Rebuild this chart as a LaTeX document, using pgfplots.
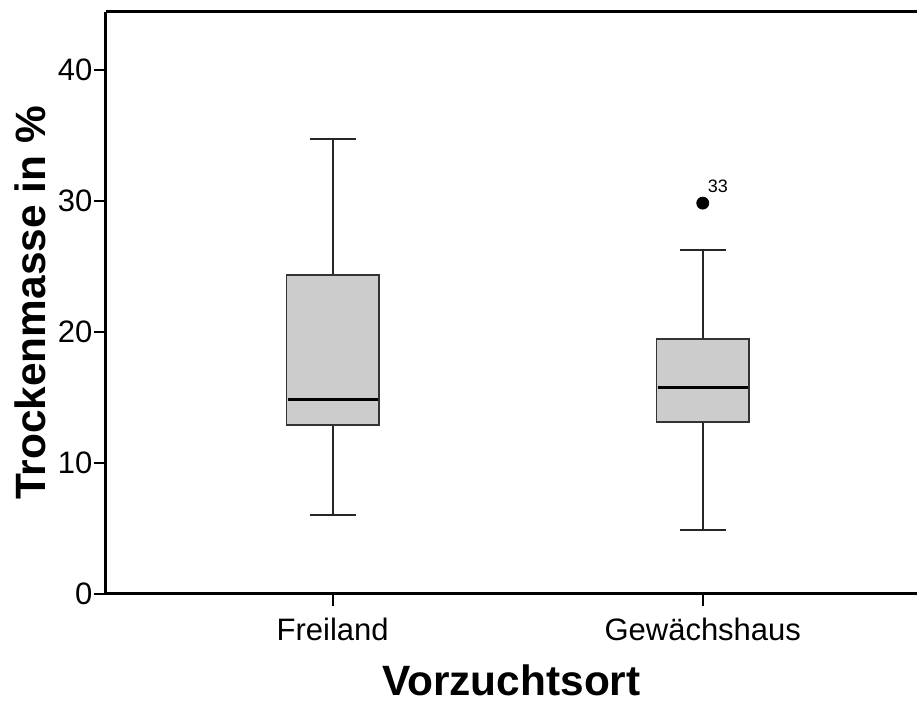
\documentclass[border=0pt]{standalone}
\usepackage{fontspec}
\setmainfont{Liberation Sans}
\usepackage{pgfplots}
\pgfplotsset{compat=1.18}
\definecolor{boxgray}{RGB}{204,204,204}
\definecolor{edgegray}{RGB}{51,51,51}

% five-number summaries
% Freiland:    6.0 / 12.9 / 14.86 / 24.35 / 34.73
% Gewaechshaus: 4.86 / 13.13 / 15.78 / 19.44 / 26.28, outlier 29.82 (case 33)

\begin{document}
\begin{tikzpicture}
  \begin{axis}[
    at={(0,0)}, anchor=south west,
    scale only axis,
    width=405.65pt, height=291pt,
    xmin=0.3865, xmax=2.579,
    ymin=0, ymax=44.4,
    axis x line=box, axis y line=left,
    axis line style={-, line width=1.5pt, black},
    xtick={1,2}, xticklabels={Freiland, Gewächshaus},
    ytick={0,10,20,30,40}, yticklabels={0,10,20,30,40},
    xtick pos=bottom, ytick pos=left,
    tick align=outside,
    major tick length=6pt,
    tick style={line width=1pt, black},
    tick label style={font=\fontsize{15.5}{18}\selectfont},
    yticklabel style={inner sep=0pt, xshift=-0.5pt},
    xticklabel style={yshift=-2.5pt},
    xlabel={\bfseries Vorzuchtsort},
    ylabel={\bfseries Trockenmasse in \%},
    xlabel style={font=\fontsize{21.2}{25}\selectfont, at={(axis description cs:0.5,0)}, anchor=base, yshift=-50.5pt},
    ylabel style={font=\fontsize{21.2}{25}\selectfont, at={(axis description cs:-0.0748,0.5)}, anchor=base},
    unbounded coords=jump,
  ]
    % whiskers and caps
    \addplot[black!85, line width=1pt] coordinates {
      (1,24.35) (1,34.73) (nan,nan) (0.9375,34.73) (1.0625,34.73) (nan,nan)
      (1,12.9) (1,6.0) (nan,nan) (0.9375,6.0) (1.0625,6.0) (nan,nan)
      (2,19.44) (2,26.28) (nan,nan) (1.9375,26.28) (2.0625,26.28) (nan,nan)
      (2,13.13) (2,4.86) (nan,nan) (1.9375,4.86) (2.0625,4.86)};
    % boxes (lower to upper quartile)
    \addplot[draw=edgegray, fill=boxgray, line width=0.75pt, line join=miter] coordinates {
      (0.875,12.9) (1.125,12.9) (1.125,24.35) (0.875,24.35) (0.875,12.9)};
    \addplot[draw=edgegray, fill=boxgray, line width=0.75pt, line join=miter] coordinates {
      (1.875,13.13) (2.125,13.13) (2.125,19.44) (1.875,19.44) (1.875,13.13)};
    % medians
    \addplot[black, line width=1.5pt] coordinates {
      (0.878,14.86) (1.122,14.86) (nan,nan) (1.878,15.78) (2.122,15.78)};
    % outlier, case 33
    \addplot[only marks, mark=*, mark size=3pt, mark options={draw=black, fill=black}]
      coordinates {(2,29.82)};
    \node[font=\fontsize{9}{10}\selectfont, inner sep=0pt] at (axis cs:2.041,31.07) {33};
  \end{axis}
  \pgfresetboundingbox
  \path (-52.85pt,-54pt) rectangle (405.65pt,297pt);
\end{tikzpicture}
\end{document}
